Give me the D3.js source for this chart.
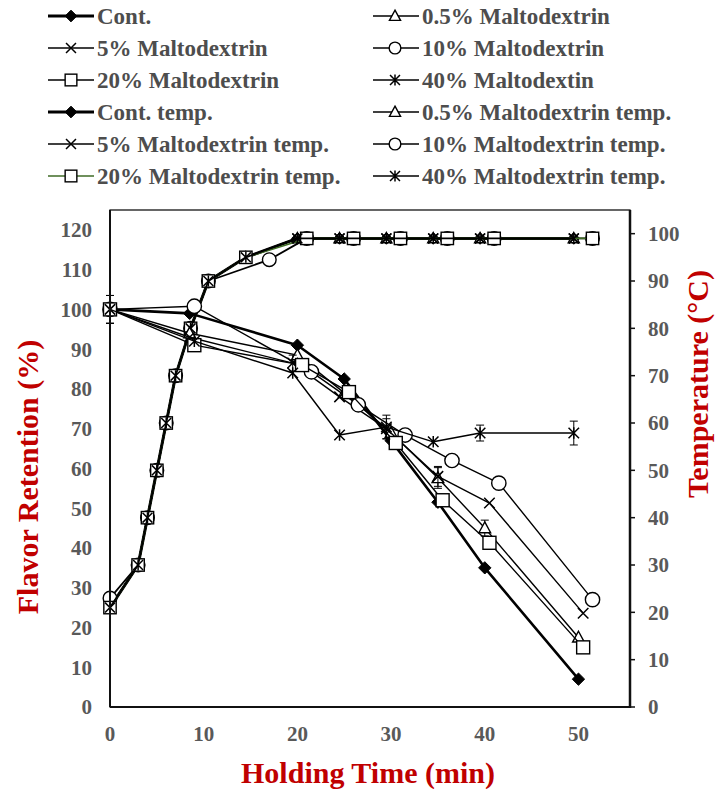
<!DOCTYPE html>
<html><head><meta charset="utf-8">
<script src="https://cdn.jsdelivr.net/npm/d3@7/dist/d3.min.js"></script>
<style>body{margin:0;background:#fff}svg{display:block}</style>
</head><body>
<script>
// ---------- data ----------
const xTicks = [0,10,20,30,40,50];
const yLeftTicks = [0,10,20,30,40,50,60,70,80,90,100,110,120];
const yRightTicks = [0,10,20,30,40,50,60,70,80,90,100];

// Flavor retention (%) series
const contT   = [0, 8.5, 20, 25, 30, 35, 40, 50];
const contV   = [100, 99, 91, 82.5, 67, 51.5, 35, 7];
const m05T    = [0, 8.5, 20, 25, 30, 35, 40, 50];
const m05V    = [100, 94, 88.5, 79, 69, 57.6, 45, 17.5];
const m05E    = [3.5, 0, 0, 0, 0, 2.6, 2, 0];
const m5T     = [0, 8.5, 19.5, 24.5, 29.5, 35, 40.5, 50.5];
const m5V     = [100, 93, 86.5, 78, 70, 58, 51.3, 23.6];
const m5E     = [3.5, 0, 2, 0, 2.5, 2.5, 0, 0];
const m10T    = [0, 9, 21.5, 26.5, 31.5, 36.5, 41.5, 51.5];
const m10V    = [100, 100.8, 84.3, 76, 68.4, 62, 56.3, 27];
const m20T    = [0, 9, 20.5, 25.5, 30.5, 35.5, 40.5, 50.5];
const m20V    = [100, 91, 86, 79.2, 66.4, 52, 41.3, 15];
const m40T    = [0, 9, 19.5, 24.5, 29.5, 34.5, 39.5, 49.5];
const m40V    = [100, 92, 84, 68.4, 70.4, 66.7, 68.9, 68.9];
const m40E    = [3.5, 0, 0, 0, 3, 0, 2, 3];

// Temperature (°C) series
const tempTA  = [0, 3, 4, 5, 6, 7, 8.6, 10.5, 14.5, 20, 24.5, 29.5, 34.5, 39.5, 49.5];
const tempCont= [21, 30, 40, 50, 60, 70, 80, 90, 95, 99, 99, 99, 99, 99, 99];
const tempM05 = [21, 30, 40, 50, 60, 70, 80, 90, 95, 99, 99, 99, 99, 99, 99];
const tempM5  = [21, 30, 40, 50, 60, 70, 80, 90, 95, 99, 99, 99, 99, 99, 99];
const tempM40 = [21, 30, 40, 50, 60, 70, 80, 90, 95, 99, 99, 99, 99, 99, 99];
const tempTB  = [0, 3, 4, 5, 6, 7, 8.6, 10.5, 17, 21, 26, 31, 36, 41, 51.5];
const tempM10 = [23, 30, 40, 50, 60, 70, 80, 90, 94.5, 99, 99, 99, 99, 99, 99];
const tempTC  = [0, 3, 4, 5, 6, 7, 8.6, 10.5, 14.5, 21, 26, 31, 36, 41, 51.5];
const tempM20 = [21, 30, 40, 50, 60, 70, 80, 90, 95, 99, 99, 99, 99, 99, 99];

const legendLabels = ["Cont.","0.5% Maltodextrin","5% Maltodextrin","10% Maltodextrin",
  "20% Maltodextrin","40% Maltodextin","Cont. temp.","0.5% Maltodextrin temp.",
  "5% Maltodextrin temp.","10% Maltodextrin temp.","20% Maltodextrin temp.","40% Maltodextrin temp."];
const legendMarkers = ["diamond","triangle","cross","circle","square","star",
  "diamond","triangle","cross","circle","square","star"];

// ---------- layout ----------
const W = 719, H = 789;
const L = 110, R = 630, T = 210, B = 707;
const svg = d3.select("body").append("svg").attr("width", W).attr("height", H);
const x = d3.scaleLinear().domain([0, 55.5]).range([L, R]);
const yL = d3.scaleLinear().domain([0, 125]).range([B, T]);
const yR = d3.scaleLinear().domain([0, 105]).range([B, T]);

const serif = "'Liberation Serif','Times New Roman',serif";

function marker(g, type, cx, cy, sc) {
  sc = sc || 1;
  const s = 6.5 * sc;
  if (type === "diamond") {
    g.append("path").attr("d", `M${cx},${cy-s}L${cx+s},${cy}L${cx},${cy+s}L${cx-s},${cy}Z`)
      .attr("fill", "#000").attr("stroke", "#000").attr("stroke-width", 1);
  } else if (type === "triangle") {
    g.append("path").attr("d", `M${cx},${cy-s}L${cx+s*0.95},${cy+s*0.75}L${cx-s*0.95},${cy+s*0.75}Z`)
      .attr("fill", "#fff").attr("stroke", "#000").attr("stroke-width", 1.4);
  } else if (type === "cross") {
    const c = s * 0.85;
    g.append("path").attr("d", `M${cx-c},${cy-c}L${cx+c},${cy+c}M${cx-c},${cy+c}L${cx+c},${cy-c}`)
      .attr("stroke", "#000").attr("stroke-width", 1.5).attr("fill", "none");
  } else if (type === "circle") {
    g.append("circle").attr("cx", cx).attr("cy", cy).attr("r", s)
      .attr("fill", "#fff").attr("stroke", "#000").attr("stroke-width", 1.4);
  } else if (type === "square") {
    g.append("rect").attr("x", cx - s).attr("y", cy - s).attr("width", 2*s).attr("height", 2*s)
      .attr("fill", "#fff").attr("stroke", "#000").attr("stroke-width", 1.4);
  } else if (type === "star") {
    const c = s * 0.85;
    g.append("path").attr("d", `M${cx-c},${cy-c}L${cx+c},${cy+c}M${cx-c},${cy+c}L${cx+c},${cy-c}M${cx},${cy-c*1.1}L${cx},${cy+c*1.1}`)
      .attr("stroke", "#000").attr("stroke-width", 1.5).attr("fill", "none");
  }
}

function errBars(g, xs, ys, es, ys2) {
  xs.forEach((t, i) => {
    const e = es[i]; if (!e) return;
    const px = x(t), a = ys2(ys[i] - e), b = ys2(ys[i] + e);
    g.append("path").attr("d", `M${px},${a}L${px},${b}M${px-4},${a}L${px+4},${a}M${px-4},${b}L${px+4},${b}`)
      .attr("stroke", "#000").attr("stroke-width", 1).attr("fill", "none");
  });
}

function series(ts, vs, ys, type, opts) {
  const g = svg.append("g");
  const pts = ts.map((t, i) => [x(t), ys(vs[i])]);
  g.append("path").attr("d", d3.line()(pts)).attr("fill", "none")
    .attr("stroke", opts.color || "#000").attr("stroke-width", opts.w || 1.5)
    .attr("stroke-linejoin", "round");
  if (opts.err) errBars(g, ts, vs, opts.err, ys);
  pts.forEach(p => marker(g, type, p[0], p[1], opts.sc));
}

// ---------- frame ----------
svg.append("rect").attr("x", L).attr("y", T).attr("width", R - L).attr("height", B - T)
  .attr("fill", "none").attr("stroke", "#000").attr("stroke-width", 1.2);

// temperature series (right axis)
series(tempTA, tempCont, yR, "diamond", {w: 3, sc: 0.9});
series(tempTA, tempM05, yR, "triangle", {w: 1.8, sc: 0.9});
series(tempTA, tempM5, yR, "cross", {w: 1.8, sc: 0.9});
series(tempTB, tempM10, yR, "circle", {w: 1.8, sc: 1.05});
series(tempTC, tempM20, yR, "square", {w: 1.6, color: "#3f6b26", sc: 0.95});
series(tempTA, tempM40, yR, "star", {w: 1.8, sc: 0.9});

// retention series (left axis)
series(contT, contV, yL, "diamond", {w: 2.6, sc: 0.95});
series(m05T, m05V, yL, "triangle", {w: 1.4, err: m05E, sc: 0.95});
series(m5T, m5V, yL, "cross", {w: 1.4, err: m5E, sc: 0.95});
series(m10T, m10V, yL, "circle", {w: 1.4, sc: 1.1});
series(m20T, m20V, yL, "square", {w: 1.4, sc: 1.0});
series(m40T, m40V, yL, "star", {w: 1.4, err: m40E, sc: 0.95});

// axes lines
svg.append("line").attr("x1", L).attr("x2", L).attr("y1", T).attr("y2", B).attr("stroke", "#111").attr("stroke-width", 2);
svg.append("line").attr("x1", L).attr("x2", R).attr("y1", B).attr("y2", B).attr("stroke", "#111").attr("stroke-width", 2.2);
svg.append("line").attr("x1", R).attr("x2", R).attr("y1", T).attr("y2", B + 1).attr("stroke", "#111").attr("stroke-width", 2.5);

// tick labels
const tickFont = {"font-family": serif, "font-weight": "bold", "font-size": "21px", "fill": "#595959"};
function applyFont(sel, f) { Object.entries(f).forEach(([k, v]) => sel.attr(k, v)); return sel; }

yLeftTicks.forEach(v => {
  applyFont(svg.append("text"), tickFont).attr("x", 92).attr("y", yL(v)).attr("dy", "0.35em")
    .attr("text-anchor", "end").text(v);
});
yRightTicks.forEach(v => {
  svg.append("line").attr("x1", R).attr("x2", R + 5).attr("y1", yR(v)).attr("y2", yR(v))
    .attr("stroke", "#111").attr("stroke-width", 1.5);
  applyFont(svg.append("text"), tickFont).attr("x", 648).attr("y", yR(v)).attr("dy", "0.35em")
    .attr("text-anchor", "start").text(v);
});
xTicks.forEach(v => {
  applyFont(svg.append("text"), tickFont).attr("x", x(v)).attr("y", 734).attr("dy", "0.35em")
    .attr("text-anchor", "middle").text(v);
});

// axis titles
const titleFont = {"font-family": serif, "font-weight": "bold", "font-size": "30px", "fill": "#c00000"};
applyFont(svg.append("text"), titleFont).attr("x", 368).attr("y", 783).attr("text-anchor", "middle")
  .text("Holding Time (min)");
applyFont(svg.append("text"), titleFont).attr("transform", "translate(38,477) rotate(-90)")
  .attr("text-anchor", "middle").text("Flavor Retention (%)");
applyFont(svg.append("text"), titleFont).attr("transform", "translate(708,384) rotate(-90)")
  .attr("text-anchor", "middle").text("Temperature (°C)");

// legend
const legCols = [{lx: 48, mx: 71, tx: 97}, {lx: 373, mx: 395, tx: 422}];
const legRows = [16, 48, 80, 112, 144, 176];
legendLabels.forEach((lab, i) => {
  const c = legCols[i % 2], yy = legRows[Math.floor(i / 2)];
  const g = svg.append("g");
  const isCont = legendMarkers[i] === "diamond";
  g.append("line").attr("x1", c.lx).attr("x2", c.lx + 46).attr("y1", yy).attr("y2", yy)
    .attr("stroke", i === 10 ? "#3f6b26" : "#000").attr("stroke-width", isCont ? 3 : 1.6);
  marker(g, legendMarkers[i], c.mx, yy, 0.9);
  g.append("text").attr("x", c.tx).attr("y", yy).attr("dy", "0.35em")
    .attr("font-family", serif).attr("font-weight", "bold").attr("font-size", "23px")
    .attr("fill", "#4d4d4d").text(lab);
});
</script>
</body></html>
